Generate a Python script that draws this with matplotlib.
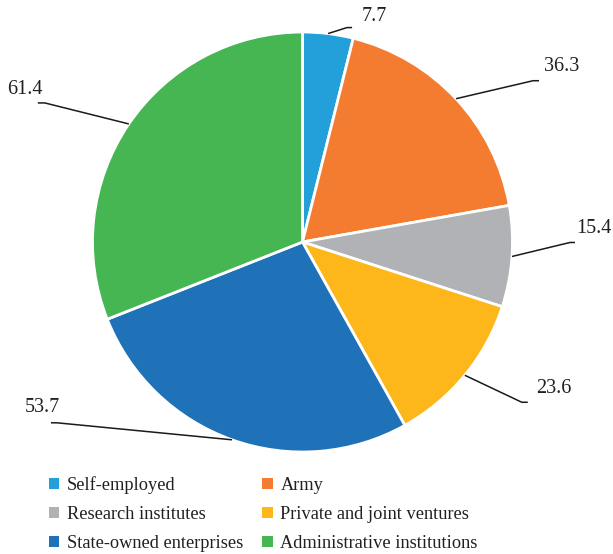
import matplotlib
matplotlib.use("Agg")
import matplotlib.pyplot as plt
from matplotlib.patches import Patch
import numpy as np

# Employment distribution by sector
categories = ["Self-employed", "Army", "Research institutes",
              "Private and joint ventures", "State-owned enterprises",
              "Administrative institutions"]
values = [7.7, 36.3, 15.4, 23.6, 53.7, 61.4]
labels = ["7.7", "36.3", "15.4", "23.6", "53.7", "61.4"]
colors = ["#239FDA", "#F47C30", "#B1B2B5", "#FDB71A", "#1F72B8", "#46B653"]

# Leader-line layout (pixel offsets from the wedge rim; y grows downward)
elbow_px = [(19, -6), (77, -18), (58, -14), (57, 27), (-175, -17), (-84, -21)]
tail_px = [5, 6, 5, 6, -6, -7]
text_px = [(10, -11), (5, -14), (1, -14), (8, -14), (9, -15), (5, -13)]

plt.rcParams["font.family"] = ["Liberation Serif", "DejaVu Serif"]

W, H, R = 613, 554, 210.0
CX, CY = 302.5, 242.0
fig = plt.figure(figsize=(W / 100, H / 100), dpi=100)
ax = fig.add_axes([0, 0, 1, 1])

wedges, _ = ax.pie(values, colors=colors, startangle=90, counterclock=False,
                   radius=1.0, center=(0, 0), frame=True,
                   wedgeprops=dict(edgecolor="white", linewidth=2))
ax.set_xlim(-CX / R, (W - CX) / R)
ax.set_ylim((CY - H) / R, CY / R)
ax.axis("off")

for w, lab, (ex, ey), tl, (tx, ty) in zip(wedges, labels, elbow_px, tail_px, text_px):
    mid = np.deg2rad((w.theta1 + w.theta2) / 2)
    x0, y0 = np.cos(mid), np.sin(mid)
    x1, y1 = x0 + ex / R, y0 - ey / R
    x2 = x1 + tl / R
    ax.plot([x0, x1, x2], [y0, y1, y1], color="#1a1a1a", lw=1.1,
            solid_capstyle="butt")
    ha = "left" if tl > 0 else "right"
    ax.text(x2 + tx / R, y1 - ty / R, lab,
            ha=ha, va="center", fontsize=14.5, color="#231f20")

order = [0, 2, 4, 1, 3, 5]
handles = [Patch(facecolor=colors[i], edgecolor="none") for i in order]
names = [categories[i] for i in order]
leg = fig.legend(handles, names, ncol=2, loc="upper left",
                 bbox_to_anchor=(49 / W, 1 - 476 / H), frameon=False,
                 fontsize=13.2, handlelength=0.56, handleheight=0.56,
                 handletextpad=0.42, columnspacing=1.05, labelspacing=0.66,
                 borderpad=0, borderaxespad=0)
for t in leg.get_texts():
    t.set_color("#231f20")

fig.savefig("out.png", dpi=100)
